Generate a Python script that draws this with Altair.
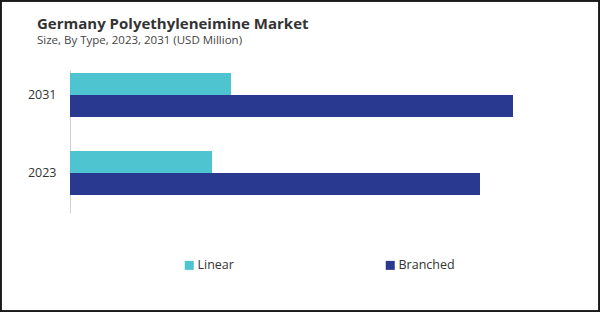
import altair as alt
import pandas as pd

years = ["2031", "2031", "2023", "2023"]
types = ["Linear", "Branched", "Linear", "Branched"]
values = [161, 443, 142, 410]

type_order = ["Linear", "Branched"]
year_order = ["2031", "2023"]
colors = ["#4EC4D0", "#293990"]

df = pd.DataFrame({"Year": years, "Type": types, "Value": values})

FONT = "Open Sans"

bars = alt.Chart(df).mark_bar(size=22).encode(
    y=alt.Y("Year:N", sort=year_order, title=None,
            scale=alt.Scale(paddingInner=0.4359, paddingOuter=0.1346, align=0.143),
            axis=alt.Axis(domain=True, domainColor="#d0d0d0", ticks=False, labelPadding=14,
                          labelFontSize=12.5, labelColor="#333333", labelFont=FONT)),
    yOffset=alt.YOffset("Type:N", sort=type_order),
    x=alt.X("Value:Q", scale=alt.Scale(domain=[0, 520]), axis=None),
    color=alt.Color("Type:N", sort=type_order,
                    scale=alt.Scale(domain=type_order, range=colors),
                    legend=alt.Legend(title=None, orient="none", direction="horizontal",
                                      legendX=113, legendY=189, columns=2, columnPadding=150,
                                      symbolType="square", symbolSize=81, symbolStrokeWidth=0,
                                      labelFontSize=12.5, labelFont=FONT, labelColor="#333333",
                                      symbolOffset=0, labelOffset=2)),
)

frame = alt.Chart(df).mark_rect(fill=None, stroke="#1a1a1a", strokeWidth=1.5).encode(
    x=alt.value(-69.25), x2=alt.value(529.25), y=alt.value(-69.25), y2=alt.value(241.25)
)

chart = alt.layer(bars, frame).properties(
    width=520, height=143,
    title=alt.TitleParams(
        text="Germany Polyethyleneimine Market",
        subtitle="Size, By Type, 2023, 2031 (USD Million)",
        anchor="start", dx=37, offset=-46,
        font=FONT, fontSize=15, fontWeight="bold", color="#333333",
        subtitleFont=FONT, subtitleFontSize=11.5, subtitleColor="#444444", subtitlePadding=3,
    ),
    autosize=alt.AutoSizeParams(type="none"),
    padding={"left": 70, "top": 70, "right": 10, "bottom": 99},
).configure(background="white").configure_view(stroke=None)

chart.save("out.html", embed_options={"renderer": "svg", "actions": False})
